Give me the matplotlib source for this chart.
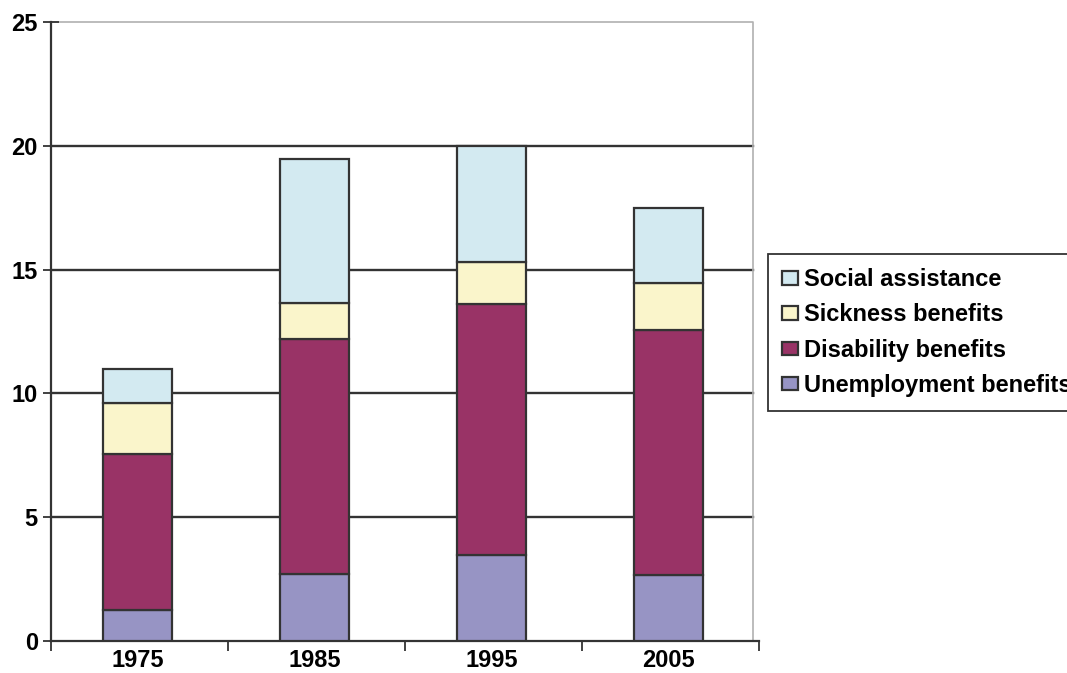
import numpy as np
import matplotlib
matplotlib.use("Agg")
import matplotlib.pyplot as plt
from matplotlib.patches import Patch

years = ["1975", "1985", "1995", "2005"]
unemployment = [1.25, 2.72, 3.47, 2.65]
disability = [6.30, 9.48, 10.15, 9.92]
sickness = [2.05, 1.47, 1.70, 1.88]
social = [1.40, 5.78, 4.68, 3.05]

series = [
    ("Unemployment benefits", unemployment, "#9794c4"),
    ("Disability benefits", disability, "#993366"),
    ("Sickness benefits", sickness, "#faf5cb"),
    ("Social assistance", social, "#d3eaf1"),
]

plt.rcParams['font.family'] = ['Liberation Sans', 'DejaVu Sans']
FS = 17

fig = plt.figure(figsize=(10.67, 6.73), dpi=100)
ax = fig.add_axes([51 / 1067, 1 - 641 / 673, (759 - 51) / 1067, (641 - 22) / 673])

x = np.arange(len(years)) + 0.49
bottom = np.zeros(len(years))
for name, vals, color in series:
    ax.bar(x, vals, width=0.39, bottom=bottom, color=color,
           edgecolor="#333333", linewidth=1.6, zorder=3)
    bottom += np.array(vals)

# gridlines + light plot-area border (top / right)
xr = (753 - 51) / (759 - 51) * 4
for v in [5, 10, 15, 20]:
    ax.plot([0, xr], [v, v], color="#333333", lw=1.7, zorder=1)
ax.plot([0, xr, xr], [25, 25, 0], color="#b0b0b0", lw=1.2, zorder=1, clip_on=False)

ax.set_xlim(0, 4)
ax.set_ylim(0, 25)
ax.set_yticks([0, 5, 10, 15, 20, 25])
ax.set_yticklabels(["0", "5", "10", "15", "20", "25"], fontsize=FS, fontweight="bold")
ax.set_xticks([0, 1, 2, 3, 4])
ax.set_xticklabels([])
ax.set_xticks(x, minor=True)
ax.set_xticklabels(years, minor=True, fontsize=FS, fontweight="bold")
ax.tick_params(axis="x", which="minor", length=0, pad=6)
ax.tick_params(axis="x", which="major", length=7, width=1.3, color="#333333")
ax.tick_params(axis="y", direction="inout", length=11, width=1.3, color="#333333", pad=4)

for s in ["top", "right"]:
    ax.spines[s].set_visible(False)
for s in ["left", "bottom"]:
    ax.spines[s].set_color("#333333")
    ax.spines[s].set_linewidth(1.6)

# legend sits partly outside the figure, as in the original
handles = [Patch(facecolor=c, edgecolor="#333333", linewidth=1.6, label=n)
           for n, v, c in series[::-1]]
leg = fig.legend(handles=handles, loc="upper left",
                 bbox_to_anchor=(768 / 1067, 1 - 254 / 673),
                 prop={"size": FS, "weight": "bold"},
                 handlelength=0.68, handleheight=0.5, handletextpad=0.25,
                 labelspacing=0.52, borderpad=0.6, borderaxespad=0,
                 fancybox=False, framealpha=1)
leg.get_frame().set_edgecolor("#333333")
leg.get_frame().set_linewidth(1.3)

fig.savefig("out.png", dpi=100)
